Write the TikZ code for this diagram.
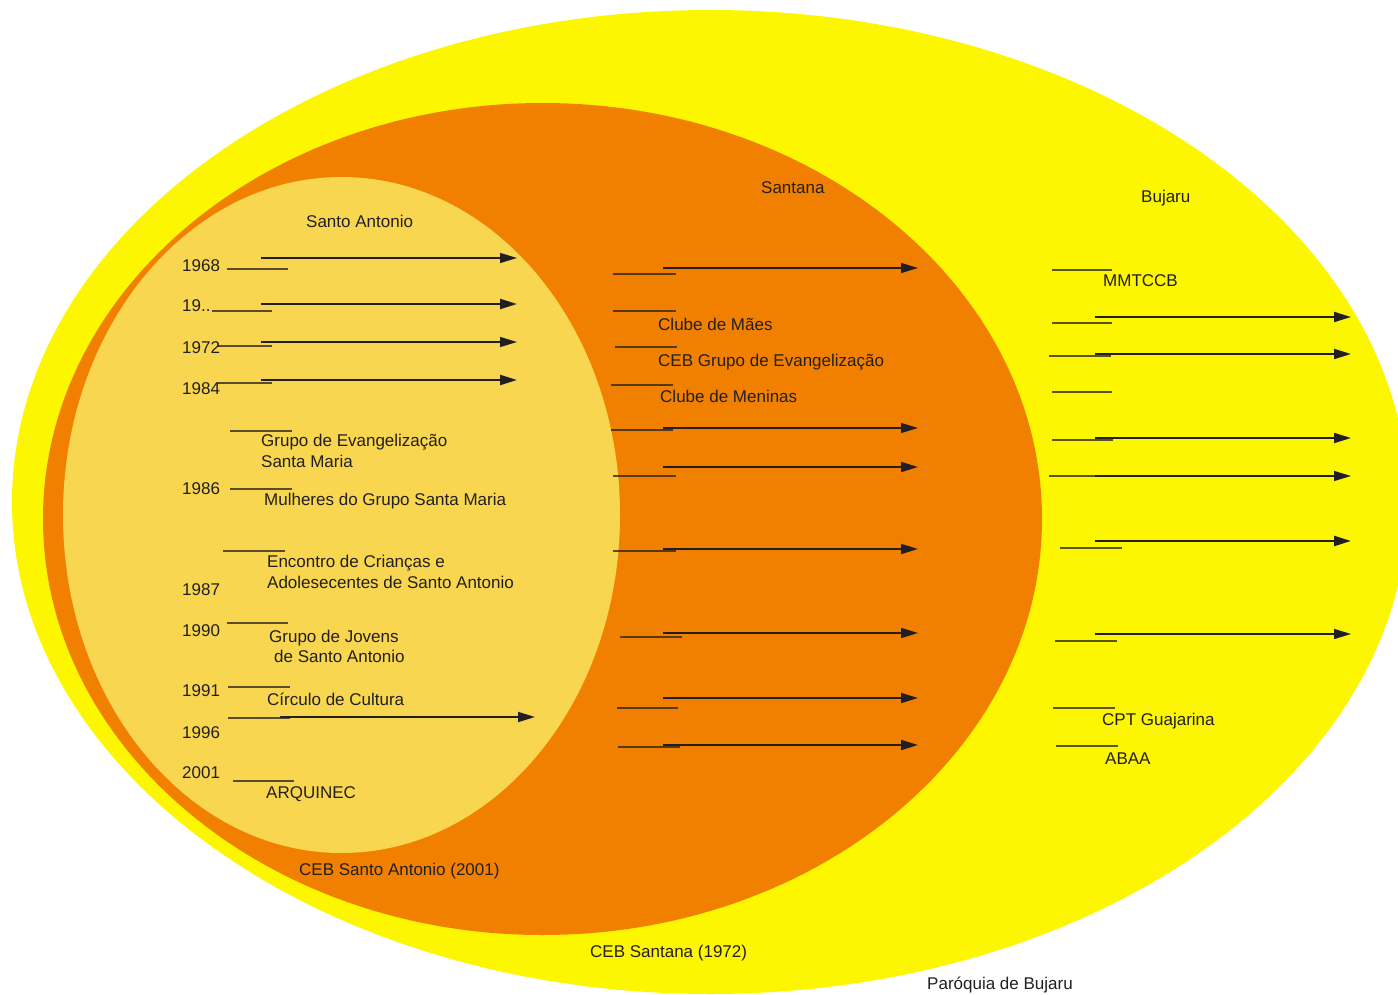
\documentclass[tikz,border=0pt]{standalone}
\usepackage{fontspec}
\setmainfont{Liberation Sans}
\usetikzlibrary{arrows.meta}
\definecolor{bigyellow}{RGB}{252,247,0}
\definecolor{midorange}{RGB}{242,128,0}
\definecolor{paleyellow}{RGB}{248,214,80}
\definecolor{ink}{RGB}{35,31,32}
\tikzset{
  lbl/.style={anchor=base west, inner sep=0pt, text=ink, font=\fontsize{17}{19}\selectfont},
  tickline/.style={draw=ink, draw opacity=0.75, line width=1.2pt},
  arrowline/.style={draw=ink, -{Triangle[length=17pt,width=10pt]}},
}
\newcommand\arrowrow[5]{%
  \coordinate (#1s) at (#2,#4);
  \coordinate (#1e) at (#3,#4);
  \draw[arrowline, line width=#5] (#1s) -- (#1e);}
\newcommand\tickrow[4]{%
  \coordinate (#1a) at (#2,#4);
  \coordinate (#1b) at (#3,#4);
  \draw[tickline] (#1a) -- (#1b);}
\begin{document}
\begin{tikzpicture}[x=1pt,y=-1pt]
\useasboundingbox (0,0) rectangle (1398,995);
\clip (0,0) rectangle (1398,995);
% regions
\fill[bigyellow] (710,502) ellipse [x radius=698pt, y radius=492pt];
\fill[midorange] (542.5,519) ellipse [x radius=499.5pt, y radius=416pt];
\fill[paleyellow] (341.5,515) ellipse [x radius=278.5pt, y radius=338pt];

% region titles
\node[lbl] (tSA) at (306,228) {Santo Antonio};
\node[lbl] (tSan) at (761,194) {Santana};
\node[lbl] (tBuj) at (1141,203) {Bujaru};
\node[lbl] (tCebSA) at (299,875) {CEB Santo Antonio (2001)};
\node[lbl] (tCebSan) at (590,957) {CEB Santana (1972)};
\node[lbl] (tPar) at (927,989) {Paróquia de Bujaru};

% left column years
\node[lbl] (y68) at (182,272) {1968};
\node[lbl] (y19) at (182,312) {19..};
\node[lbl] (y72) at (182,353) {1972};
\node[lbl] (y84) at (182,394) {1984};
\node[lbl] (y86) at (182,494) {1986};
\node[lbl] (y87) at (182,595) {1987};
\node[lbl] (y90) at (182,636) {1990};
\node[lbl] (y91) at (182,696) {1991};
\node[lbl] (y96) at (182,738) {1996};
\node[lbl] (y01) at (182,778) {2001};

% left column labels
\node[lbl] (gesm1) at (261,446) {Grupo de Evangelização};
\node[lbl] (gesm2) at (261,467) {Santa Maria};
\node[lbl] (mgsm) at (264,505) {Mulheres do Grupo Santa Maria};
\node[lbl] (ecas1) at (267,567) {Encontro de Crianças e};
\node[lbl] (ecas2) at (267,588) {Adolesecentes de Santo Antonio};
\node[lbl] (gjsa1) at (269,642) {Grupo de Jovens};
\node[lbl] (gjsa2) at (274,662) {de Santo Antonio};
\node[lbl] (ccul) at (267,705) {Círculo de Cultura};
\node[lbl] (arq) at (266,798) {ARQUINEC};

% left column ticks
\tickrow{L1}{227}{288}{269}
\tickrow{L2}{212}{272}{311}
\tickrow{L3}{217}{272}{346}
\tickrow{L4}{217}{272}{383}
\tickrow{L5}{230}{292}{431}
\tickrow{L6}{230}{292}{489}
\tickrow{L7}{223}{285}{551}
\tickrow{L8}{227}{288}{623}
\tickrow{L9}{228}{290}{687}
\tickrow{L10}{228}{290}{718}
\tickrow{L11}{233}{294}{781}

% left column arrows
\arrowrow{A1}{261}{517}{258}{1.3pt}
\arrowrow{A2}{261}{517}{304}{2.2pt}
\arrowrow{A3}{261}{517}{342}{1.3pt}
\arrowrow{A4}{261}{517}{380}{2.2pt}
\arrowrow{A5}{280}{535}{717}{1.8pt}

% middle column labels
\node[lbl] (cm) at (658,330) {Clube de Mães};
\node[lbl] (cebge) at (658,366) {CEB Grupo de Evangelização};
\node[lbl] (cmen) at (660,402) {Clube de Meninas};

% middle column ticks
\tickrow{M1}{613}{676}{274}
\tickrow{M2}{613}{676}{311}
\tickrow{M3}{615}{677}{347}
\tickrow{M4}{611}{673}{385}
\tickrow{M5}{611}{673}{430}
\tickrow{M6}{613}{676}{476}
\tickrow{M7}{613}{676}{551}
\tickrow{M8}{620}{682}{637}
\tickrow{M9}{617}{678}{708}
\tickrow{M10}{618}{680}{747}

% middle column arrows
\arrowrow{B1}{663}{918}{268}{1.5pt}
\arrowrow{B2}{663}{918}{428}{1.2pt}
\arrowrow{B3}{663}{918}{467}{1.8pt}
\arrowrow{B4}{663}{918}{549}{1.8pt}
\arrowrow{B5}{663}{918}{633}{1.8pt}
\arrowrow{B6}{663}{918}{698}{1.8pt}
\arrowrow{B7}{663}{918}{745}{2pt}

% right column labels
\node[lbl] (mmt) at (1103,287) {MMTCCB};
\node[lbl] (cpt) at (1102,725) {CPT Guajarina};
\node[lbl] (abaa) at (1105,764) {ABAA};

% right column ticks
\tickrow{R1}{1052}{1112}{270}
\tickrow{R2}{1052}{1112}{323}
\tickrow{R3}{1049}{1111}{356}
\tickrow{R4}{1052}{1112}{392}
\tickrow{R5}{1052}{1113}{440}
\tickrow{R6}{1049}{1111}{476}
\tickrow{R7}{1060}{1122}{548}
\tickrow{R8}{1055}{1117}{641}
\tickrow{R9}{1053}{1115}{708}
\tickrow{R10}{1056}{1118}{746}

% right column arrows
\arrowrow{C1}{1095}{1351}{317}{2pt}
\arrowrow{C2}{1095}{1351}{354}{2pt}
\arrowrow{C3}{1095}{1351}{438}{2pt}
\arrowrow{C4}{1095}{1351}{476}{1.2pt}
\arrowrow{C5}{1095}{1351}{541}{2.5pt}
\arrowrow{C6}{1095}{1351}{634}{1.3pt}
\end{tikzpicture}
\end{document}
